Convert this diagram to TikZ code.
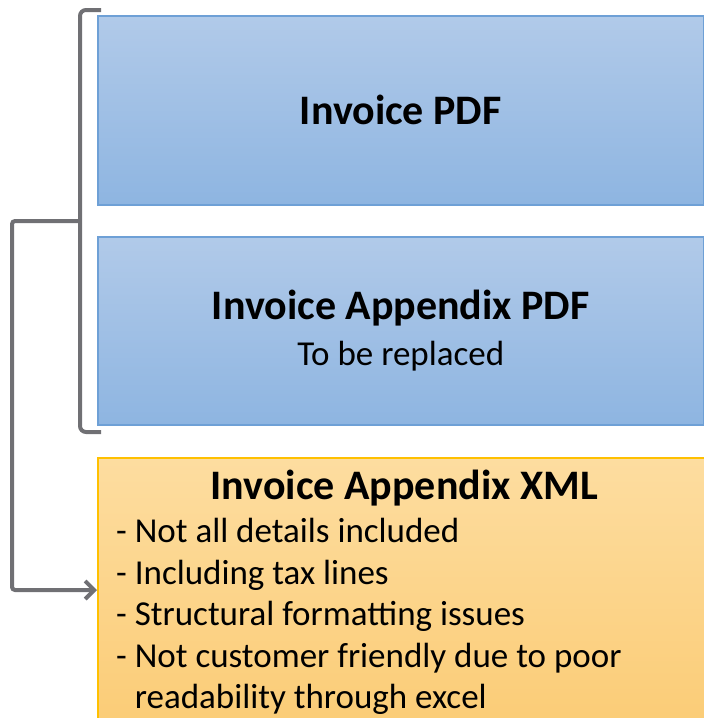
\documentclass[tikz,border=0pt]{standalone}
\usepackage{fontspec}
\setmainfont{Carlito}
\usetikzlibrary{positioning,calc,arrows.meta}
\definecolor{pdftop}{RGB}{177,202,233}
\definecolor{pdfbot}{RGB}{142,181,225}
\definecolor{pdfline}{RGB}{110,160,214}
\definecolor{xmltop}{RGB}{253,221,160}
\definecolor{xmlbot}{RGB}{251,204,118}
\definecolor{xmlline}{RGB}{255,192,0}
\definecolor{brgray}{RGB}{112,112,116}

\begin{document}
\begin{tikzpicture}[x=1pt,y=-1pt,
    pdfbox/.style={draw=pdfline,line width=1.5pt,top color=pdftop,bottom color=pdfbot,
      anchor=north west,minimum width=606pt,inner sep=0pt,align=center},
    xmlbox/.style={draw=xmlline,line width=1.5pt,top color=xmltop,bottom color=xmlbot,
      anchor=north west,minimum width=607pt,minimum height=270pt,inner sep=0pt},
    titletext/.style={font=\fontsize{42}{45}\selectfont\bfseries},
    bodytext/.style={font=\fontsize{35}{41.5}\selectfont},
    bracket/.style={draw=brgray,line width=4pt,rounded corners=6pt}
  ]
  \useasboundingbox (0,0) rectangle (704,718);

  % the pdf boxes
  \node[pdfbox,minimum height=189pt,titletext] (pdf) at (97,15) {Invoice PDF};
  \node[pdfbox,minimum height=188pt] (appx) at (97,236)
    {{\fontsize{42}{45}\selectfont\bfseries Invoice Appendix PDF}\\[14pt]
     {\fontsize{35}{42}\selectfont To be replaced}};

  % the xml box
  \node[xmlbox] (xml) at (97,457) {};
  \node[titletext,anchor=north] (xmltitle) at ($(xml.north)+(3,9)$) {Invoice Appendix XML};
  \node[bodytext,anchor=north west,align=left,inner sep=0pt] (xmllist) at (116,518)
    {- Not all details included\\
     - Including tax lines\\
     - Structural formatting issues\\
     - Not customer friendly due to poor\\
     \hphantom{- }readability through excel};

  % the bracket
  \coordinate (brtop) at (101,10);
  \coordinate (brbot) at (101,432);
  \coordinate (brtip) at (80,221);
  \coordinate (xmlin) at (97,590);
  \draw[bracket] (brtop) -| (brtip) |- (brbot);

  % the arrow
  \draw[bracket,rounded corners=3pt,-{Straight Barb[length=9pt,width=18pt]}]
    (brtip) -| (12,590) -- (xmlin);
\end{tikzpicture}
\end{document}
